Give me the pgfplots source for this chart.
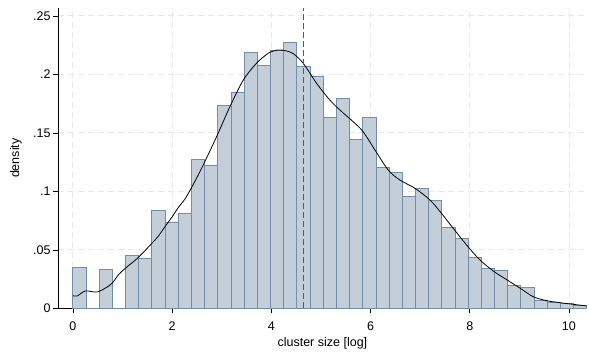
\documentclass[border=0pt]{standalone}
\usepackage{fontspec}
\setmainfont{Liberation Sans}
\usepackage{pgfplots}
\pgfplotsset{compat=1.18}
\definecolor{barfill}{RGB}{195,206,217}
\definecolor{baredge}{RGB}{112,141,170}
\definecolor{gridc}{RGB}{232,232,232}
\definecolor{meanc}{RGB}{160,55,75}
\begin{document}
\begin{tikzpicture}
\begin{axis}[
  scale only axis,
  width=528.8pt, height=300.3pt,
  xmin=-0.3, xmax=10.36,
  ymin=0, ymax=0.2567,
  axis x line*=bottom, axis y line*=left,
  axis line style={black, line width=0.8pt},
  xtick={0,2,4,6,8,10},
  xticklabels={0,2,4,6,8,10},
  ytick={0,0.05,0.1,0.15,0.2,0.25},
  yticklabels={0,.05,.1,.15,.2,.25},
  tick align=outside,
  major tick length=5pt,
  tick style={black, line width=0.6pt},
  xmajorgrids, ymajorgrids,
  grid style={gridc, dashed, dash pattern=on 6pt off 4pt, line width=0.8pt},
  /pgf/number format/assume math mode=true,
  every tick label/.append style={font=\fontsize{12.5}{14}\selectfont},
  xticklabel style={anchor=base, inner sep=0pt, yshift=-16.7pt},
  yticklabel style={anchor=east, inner sep=0pt, xshift=-2.3pt},
  label style={font=\fontsize{12.5}{14}\selectfont},
  xlabel={cluster size [log]},
  ylabel={density},
  xlabel style={at={(axis description cs:0.5,-0.128)}, anchor=base, inner sep=0pt},
  ylabel style={at={(axis description cs:-0.0737,0.5)}, anchor=base, inner sep=0pt},
  clip=false,
]
\addplot[ybar interval, fill=barfill, draw=baredge, line width=0.9pt] coordinates {
(0.0000,0.0350) (0.2656,0.0000) (0.5313,0.0333) (0.7969,0.0000)
(1.0626,0.0453) (1.3282,0.0430) (1.5938,0.0838) (1.8595,0.0738)
(2.1251,0.0815) (2.3908,0.1276) (2.6564,0.1225) (2.9220,0.1735)
(3.1877,0.1849) (3.4533,0.2185) (3.7190,0.2077) (3.9846,0.2208)
(4.2502,0.2274) (4.5159,0.2068) (4.7815,0.1983) (5.0472,0.1632)
(5.3128,0.1795) (5.5784,0.1444) (5.8441,0.1632) (6.1097,0.1205)
(6.3754,0.1162) (6.6410,0.0960) (6.9066,0.1026) (7.1723,0.0923)
(7.4379,0.0695) (7.7036,0.0598) (7.9692,0.0438) (8.2348,0.0342)
(8.5005,0.0325) (8.7661,0.0197) (9.0318,0.0180) (9.2974,0.0068)
(9.5630,0.0051) (9.8287,0.0043) (10.0943,0.0028) (10.3600,0.0028)
};
\addplot[black, line width=0.8pt, smooth, tension=0.5] coordinates {
(0.000,0.0108) (0.087,0.0105) (0.250,0.0148) (0.477,0.0139) (0.645,0.0170)
(0.790,0.0214) (0.930,0.0292) (1.080,0.0350) (1.320,0.0435) (1.590,0.0555)
(1.720,0.0615) (1.860,0.0700) (1.995,0.0778) (2.123,0.0860) (2.260,0.0935)
(2.390,0.1030) (2.527,0.1140) (2.650,0.1245) (2.897,0.1467) (3.165,0.1723)
(3.434,0.1950) (3.700,0.2094) (3.950,0.2183) (4.150,0.2208) (4.300,0.2200)
(4.440,0.2178) (4.645,0.2094) (4.913,0.1923) (5.180,0.1780) (5.383,0.1695)
(5.650,0.1595) (5.850,0.1510) (6.090,0.1353) (6.357,0.1182) (6.590,0.1097)
(6.895,0.1026) (7.198,0.0926) (7.430,0.0812) (7.667,0.0684) (7.937,0.0541)
(8.206,0.0413) (8.494,0.0313) (8.756,0.0242) (9.018,0.0171) (9.280,0.0099)
(9.550,0.0065) (9.820,0.0048) (10.087,0.0034) (10.357,0.0020)
};
\addplot[meanc, line width=0.8pt, dash pattern=on 6pt off 3pt] coordinates {(4.64,0) (4.64,0.2567)};
\end{axis}
\pgfresetboundingbox
\path ([shift={(-58pt,-45.7pt)}]current axis.south west) rectangle ([shift={(531pt,308.3pt)}]current axis.south west);
\end{tikzpicture}
\end{document}
